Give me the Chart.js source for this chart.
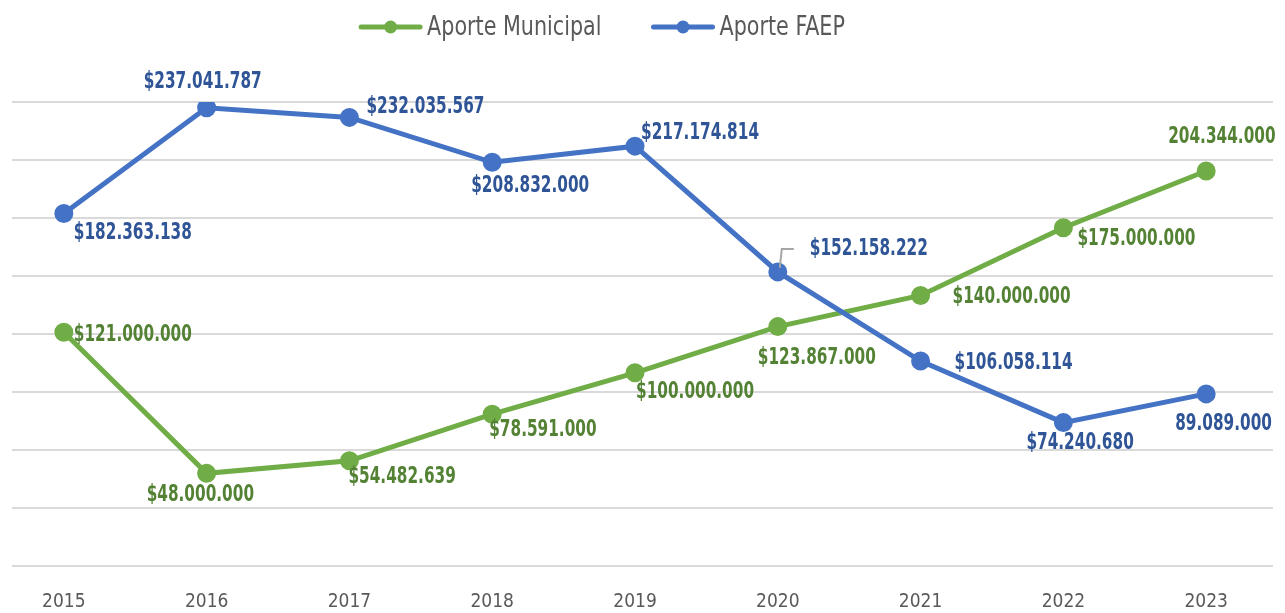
<!DOCTYPE html>
<html>
<head>
<meta charset="utf-8">
<title>Aporte Municipal vs Aporte FAEP</title>
<script src="https://cdn.jsdelivr.net/npm/chart.js@4.4.1/dist/chart.umd.min.js"></script>
<style>
  html, body { margin: 0; padding: 0; background: #fff; }
</style>
</head>
<body>
<canvas id="chartContainer" width="1285" height="613"></canvas>
<script>
// years on the x axis
const years = [2015, 2016, 2017, 2018, 2019, 2020, 2021, 2022, 2023];

// pesos per year
const aporteMunicipal = [121000000, 48000000, 54482639, 78591000, 100000000, 123867000, 140000000, 175000000, 204344000];
const aporteFaep = [182363138, 237041787, 232035567, 208832000, 217174814, 152158222, 106058114, 74240680, 89089000];

// y axis range / gridline step
const yMin = 0;
const yMax = 240000000;
const yStep = 30000000;

// where each value label sits relative to its point [dx, dy]
const municipalLabelOffsets = [[10, 3], [-60, 22], [-1, 16], [-3, 16], [1, 19], [-20, 31], [32, 2], [14, 11], [-38, -34]];
const faepLabelOffsets = [[10, 20], [-63, -26], [17, -10], [-21, 24], [6, -13], [32, -23], [34, 2], [-37, 20], [-31, 30]];

const GREEN = '#70ad47';
const BLUE = '#4472c4';
const FONT = '"DejaVu Sans Condensed", "DejaVu Sans", sans-serif';

function formatPesos(v, withSign) {
    const s = String(v).replace(/\B(?=(\d{3})+(?!\d))/g, '.');
    return withSign ? '$' + s : s;
}

// value labels next to each point
const valueLabels = {
    id: 'valueLabels',
    afterDatasetsDraw(chart) {
        const ctx = chart.ctx;
        ctx.save();
        ctx.font = 'bold 17px ' + FONT;
        ctx.textAlign = 'left';
        ctx.textBaseline = 'middle';
        chart.data.datasets.forEach((ds, di) => {
            const meta = chart.getDatasetMeta(di);
            meta.data.forEach((pt, i) => {
                const [dx, dy] = ds.labelOffsets[i];
                const last = i === ds.data.length - 1;
                const text = formatPesos(ds.data[i].y, !last);
                if (ds.leaderAt === i) {
                    ctx.strokeStyle = '#a6a6a6';
                    ctx.lineWidth = 2;
                    ctx.beginPath();
                    ctx.moveTo(pt.x + 2, pt.y - 4);
                    ctx.lineTo(pt.x + 4, pt.y - 23);
                    ctx.lineTo(pt.x + 16, pt.y - 23);
                    ctx.stroke();
                }
                ctx.fillStyle = ds.labelColor;
                ctx.save();
                ctx.translate(pt.x + dx, pt.y + dy);
                ctx.scale(1, 1.35);
                ctx.fillText(text, 0, 0);
                ctx.restore();
            });
        });
        ctx.restore();
    }
};

// legend: line with a dot, then the series name
const lineLegend = {
    id: 'lineLegend',
    afterDraw(chart) {
        const ctx = chart.ctx;
        const sets = chart.data.datasets;
        ctx.save();
        ctx.font = '23px ' + FONT;
        const lineW = 63, gap = 5, itemGap = 50;
        const widths = sets.map(ds => lineW + gap + ctx.measureText(ds.label).width);
        const total = widths.reduce((a, b) => a + b, 0) + itemGap * (sets.length - 1);
        let x = 602 - total / 2;
        const y = 27;
        sets.forEach((ds, i) => {
            ctx.strokeStyle = ds.borderColor;
            ctx.lineWidth = 5;
            ctx.lineCap = 'round';
            ctx.beginPath();
            ctx.moveTo(x + 2, y);
            ctx.lineTo(x + lineW - 2, y);
            ctx.stroke();
            ctx.fillStyle = ds.borderColor;
            ctx.beginPath();
            ctx.arc(x + lineW / 2, y, 6.5, 0, Math.PI * 2);
            ctx.fill();
            ctx.fillStyle = '#595959';
            ctx.textAlign = 'left';
            ctx.textBaseline = 'middle';
            ctx.save();
            ctx.translate(x + lineW + gap, y + 1);
            ctx.scale(1, 1.15);
            ctx.fillText(ds.label, 0, 0);
            ctx.restore();
            x += widths[i] + itemGap;
        });
        ctx.restore();
    }
};

const ctx = document.getElementById('chartContainer').getContext('2d');
new Chart(ctx, {
    type: 'line',
    data: {
        datasets: [
            {
                label: 'Aporte Municipal',
                data: years.map((yr, i) => ({ x: yr, y: aporteMunicipal[i] })),
                borderColor: GREEN,
                backgroundColor: GREEN,
                borderWidth: 5,
                pointRadius: 7,
                pointHoverRadius: 7,
                labelColor: '#548235',
                labelOffsets: municipalLabelOffsets,
                order: 1
            },
            {
                label: 'Aporte FAEP',
                data: years.map((yr, i) => ({ x: yr, y: aporteFaep[i] })),
                borderColor: BLUE,
                backgroundColor: BLUE,
                borderWidth: 5,
                pointRadius: 7,
                pointHoverRadius: 7,
                labelColor: '#2f5597',
                labelOffsets: faepLabelOffsets,
                leaderAt: 5,
                order: 0
            }
        ]
    },
    options: {
        responsive: false,
        animation: false,
        layout: { padding: { top: 102, left: 10, right: 10, bottom: -24 } },
        plugins: {
            legend: { display: false },
            tooltip: { enabled: false }
        },
        scales: {
            x: {
                type: 'linear',
                min: 2014.637,
                max: 2023.468,
                afterBuildTicks: scale => { scale.ticks = years.map(v => ({ value: v })); },
                grid: { display: false, drawTicks: false },
                border: { display: false },
                ticks: {
                    callback: v => String(v),
                    color: '#595959',
                    font: { family: FONT, size: 19 },
                    padding: 24,
                    maxRotation: 0,
                    autoSkip: false
                }
            },
            y: {
                min: yMin,
                max: yMax,
                grid: { color: '#d9d9d9', lineWidth: 2, drawTicks: false },
                border: { display: false },
                ticks: { stepSize: yStep, display: false }
            }
        }
    },
    plugins: [valueLabels, lineLegend]
});
</script>
</body>
</html>
